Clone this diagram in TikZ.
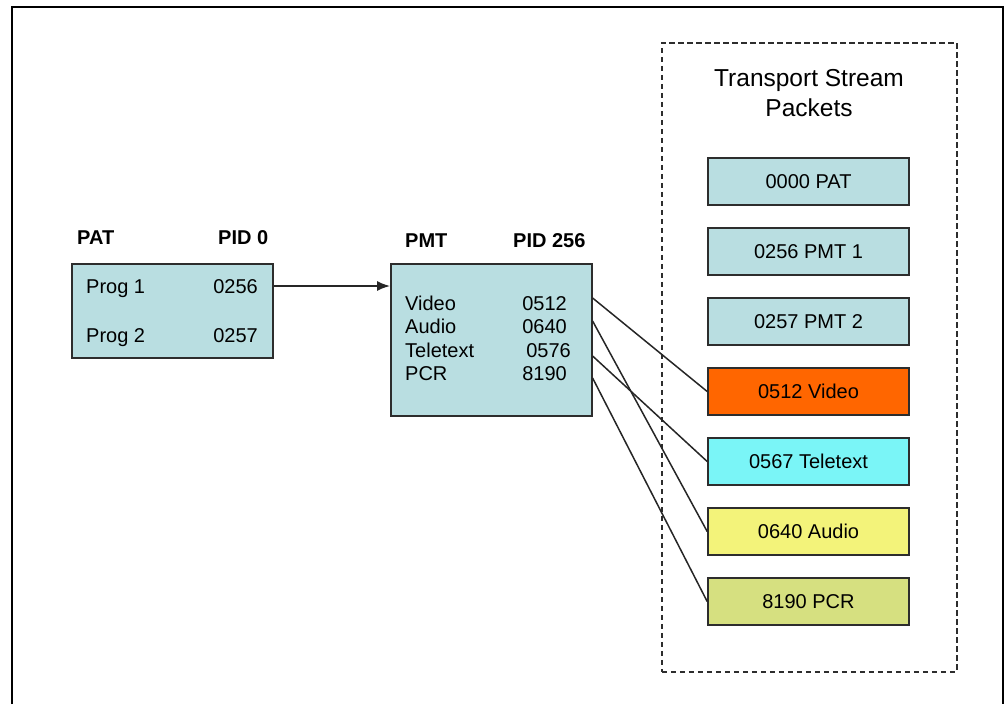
\documentclass[tikz,border=0pt]{standalone}
\usepackage{fontspec}
\setmainfont{Liberation Sans}
\usetikzlibrary{arrows.meta,calc}
\definecolor{tsblue}{RGB}{185,222,225}
\definecolor{tsorange}{RGB}{255,102,0}
\definecolor{tscyan}{RGB}{122,245,247}
\definecolor{tsyellow}{RGB}{243,243,122}
\definecolor{tsolive}{RGB}{214,224,128}
\definecolor{boxline}{RGB}{45,45,45}
\tikzset{
  tbl/.style={draw=boxline, line width=1.6pt, fill=tsblue, inner sep=0pt, anchor=north west},
  pkt/.style={draw=boxline, line width=1.6pt, minimum width=201pt, minimum height=47pt,
              inner sep=0pt, font=\fontsize{20}{24}\selectfont},
  lbl/.style={inner sep=0pt, font=\fontsize{20}{24}\selectfont\bfseries},
  txt/.style={inner sep=0pt, font=\fontsize{20}{24}\selectfont},
  link/.style={draw=black!85, line width=1.5pt},
}
\begin{document}
\begin{tikzpicture}[x=1pt,y=-1pt]
\useasboundingbox (0,0) rectangle (1008,704);
% outer frame
\draw[line width=2.4pt] (12,704) -- (12,7) -- (1003,7) -- (1003,704);

% Program Association Table
\node[lbl, anchor=base west] (patlbl) at (77,244) {PAT};
\node[lbl, anchor=base west] (patpid) at (218,244) {PID 0};
\node[tbl, minimum width=201pt, minimum height=94pt] (pat) at (71,263) {};
\node[txt, anchor=base west] (prog1) at (86,293) {Prog 1};
\node[txt, anchor=base east] (prog1pid) at (258,293) {0256};
\node[txt, anchor=base west] (prog2) at (86,342) {Prog 2};
\node[txt, anchor=base east] (prog2pid) at (258,342) {0257};

% Program Map Table
\node[lbl, anchor=base west] (pmtlbl) at (405,247) {PMT};
\node[lbl, anchor=base west] (pmtpid) at (513,247) {PID 256};
\node[tbl, minimum width=201pt, minimum height=152pt] (pmt) at (390,263) {};
\node[txt, anchor=base west] (rvideo) at (405,310) {Video};
\node[txt, anchor=base east] (rvideopid) at (567,310) {0512};
\node[txt, anchor=base west] (raudio) at (405,333) {Audio};
\node[txt, anchor=base east] (raudiopid) at (567,333) {0640};
\node[txt, anchor=base west] (rtele) at (405,357) {Teletext};
\node[txt, anchor=base east] (rtelepid) at (571,357) {0576};
\node[txt, anchor=base west] (rpcr) at (405,380) {PCR};
\node[txt, anchor=base east] (rpcrpid) at (567,380) {8190};

% transport stream packets
\node[draw=boxline, line width=1.7pt, dash pattern=on 5.5pt off 3.5pt, inner sep=0pt,
      minimum width=295pt, minimum height=629pt, anchor=north west] (stream) at (661,42) {};
\node[inner sep=0pt, align=center, font=\fontsize{24.5}{30}\selectfont] (title) at (809,93)
  {Transport Stream\\Packets};
\node[pkt, fill=tsblue]   (kpat)   at (808.5,181.5) {0000 PAT};
\node[pkt, fill=tsblue]   (kpmt1)  at (808.5,251.5) {0256 PMT 1};
\node[pkt, fill=tsblue]   (kpmt2)  at (808.5,321.5) {0257 PMT 2};
\node[pkt, fill=tsorange] (kvideo) at (808.5,391.5) {0512 Video};
\node[pkt, fill=tscyan]   (ktele)  at (808.5,461.5) {0567 Teletext};
\node[pkt, fill=tsyellow] (kaudio) at (808.5,531.5) {0640 Audio};
\node[pkt, fill=tsolive]  (kpcr)   at (808.5,601.5) {8190 PCR};

% PAT entry points to the PMT
\coordinate (a1) at ($(pat.north east)+(0,23)$);
\draw[link, -{Latex[length=13pt,width=10pt]}] (a1) -- (a1 -| pmt.west);

% PMT entries point to their packets
\coordinate (sv) at ($(pmt.north east)+(0,35)$);
\coordinate (sa) at ($(pmt.north east)+(0,58)$);
\coordinate (st) at ($(pmt.north east)+(0,93)$);
\coordinate (sp) at ($(pmt.north east)+(0,115)$);
\draw[link] (sv) -- (kvideo.west);
\draw[link] (sa) -- (kaudio.west);
\draw[link] (st) -- (ktele.west);
\draw[link] (sp) -- (kpcr.west);
\end{tikzpicture}
\end{document}
